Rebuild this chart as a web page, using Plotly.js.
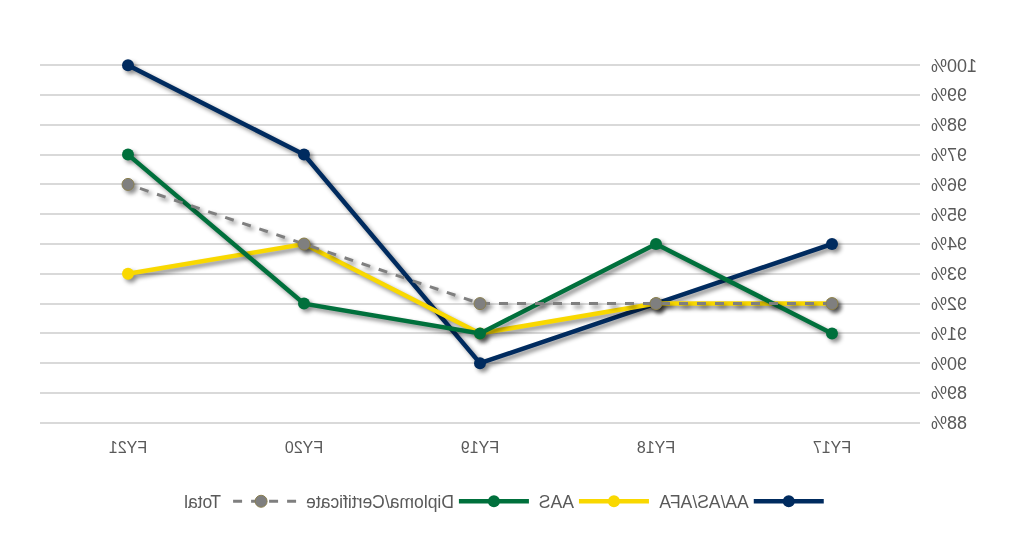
<!DOCTYPE html>
<html>
<head>
<meta charset="utf-8">
<script src="https://cdn.plot.ly/plotly-3.0.1.min.js"></script>
<style>
html, body { margin:0; padding:0; background:#fff; }
#chart { width:1015px; height:551px; transform: scaleX(-1); }
#chart .scatterlayer .trace { filter: drop-shadow(-3px 3px 2px rgba(0,0,0,0.45)); }
</style>
</head>
<body>
<div id="chart"></div>
<script>
const categories = ["FY17", "FY18", "FY19", "FY20", "FY21"];
const aaAsAfa = [94, 92, 90, 97, 100];
const aas = [92, 92, 91, 94, 93];
const diploma = [91, 94, 91, 92, 97];
const total = [92, 92, 92, 94, 96];
const yTickVals = [88, 89, 90, 91, 92, 93, 94, 95, 96, 97, 98, 99, 100];
const yTickText = yTickVals.map(v => v + "%");

const seriesNames = ["AA/AS/AFA", "AAS", "Diploma/Certificate", "Total"];
const seriesData = [aaAsAfa, aas, diploma, total];
const colors = ["#002B5F", "#F9D800", "#00703C", "#7F7F7F"];

const traces = seriesData.map((vals, i) => ({
  x: categories,
  y: vals,
  name: seriesNames[i],
  type: "scatter",
  mode: "lines+markers",
  cliponaxis: false,
  line: { color: colors[i], width: i === 3 ? 3 : 4.5, dash: i === 3 ? "dash" : "solid" },
  marker: { color: colors[i], size: 12, line: { width: i === 3 ? 1 : 0, color: "#8a7f50" } }
}));

const baseFont = "Liberation Sans, Arial, sans-serif";
const textColor = "#595959";

const layout = {
  width: 1015, height: 551,
  margin: { l: 95, r: 40, t: 64, b: 127 },
  paper_bgcolor: "#fff", plot_bgcolor: "#fff",
  font: { family: baseFont, size: 16, color: textColor },
  showlegend: true,
  legend: { orientation: "h", x: 0.473, xanchor: "center", y: -0.165, yanchor: "top",
            itemwidth: 70,
            font: { family: baseFont, size: 17.5, color: textColor }, traceorder: "normal" },
  xaxis: {
    type: "category", showgrid: false, zeroline: false, showline: false,
    ticks: "", tickfont: { family: baseFont, size: 16, color: textColor },
    range: [-0.5, 4.5], ticklabelstandoff: 12
  },
  yaxis: {
    range: [87.96, 100.04], tickvals: yTickVals, ticktext: yTickText,
    showgrid: true, gridcolor: "#D9D9D9", gridwidth: 2, zeroline: false, showline: false,
    ticks: "", tickfont: { family: baseFont, size: 18, color: textColor }, ticklabelstandoff: 10
  }
};

Plotly.newPlot("chart", traces, layout, { displayModeBar: false, staticPlot: true });
</script>
</body>
</html>
